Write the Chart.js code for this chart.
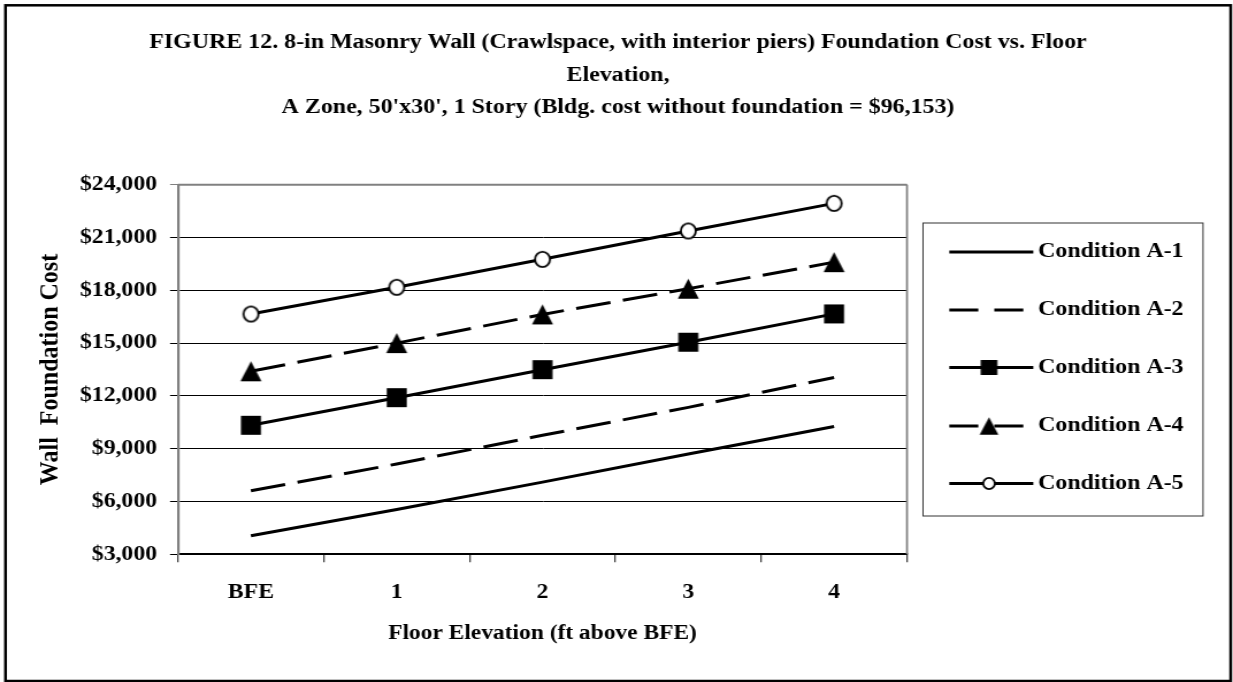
<!DOCTYPE html>
<html>
<head>
<meta charset="utf-8">
<script src="https://cdn.jsdelivr.net/npm/chart.js@4.4.1/dist/chart.umd.min.js"></script>
<style>
  html, body { margin: 0; padding: 0; background: #fff; overflow: hidden; }
  /* the source picture is stretched sideways, so draw narrow and scale x */
  #wrap { width: 1072px; height: 682px; transform: scaleX(1.15019); transform-origin: 0 0; }
</style>
</head>
<body>
<div id="wrap"><canvas id="chart" width="1072" height="682"></canvas></div>
<script>
// === Data ===
const categories = ['BFE', '1', '2', '3', '4'];
const seriesNames = ['Condition A-1', 'Condition A-2', 'Condition A-3', 'Condition A-4', 'Condition A-5'];
const condA1 = [4050, 5550, 7100, 8700, 10260];
const condA2 = [6610, 8130, 9760, 11350, 13050];
const condA3 = [10330, 11900, 13490, 15050, 16660];
const condA4 = [13400, 15000, 16630, 18090, 19600];
const condA5 = [16650, 18170, 19760, 21370, 22940];
const yMin = 3000;
const yMax = 24000;
const yStep = 3000;

const titleLines = [
    'FIGURE 12. 8-in Masonry Wall (Crawlspace, with interior piers) Foundation Cost vs. Floor',
    'Elevation,',
    "A Zone, 50'x30', 1 Story (Bldg. cost without foundation = $96,153)"
];

const FONT = '"Liberation Serif", "Times New Roman", serif';
const W = 1072;
const SX = 1233 / W;            // sideways stretch of the page
const cx = x => x / SX;         // page x -> canvas x

// marker images (drawn narrower than tall to undo the sideways stretch)
function makeMarker(kind, w, h) {
    const c = document.createElement('canvas');
    c.width = Math.ceil(w) + 4;
    c.height = Math.ceil(h) + 4;
    const g = c.getContext('2d');
    const mx = c.width / 2, my = c.height / 2;
    g.fillStyle = '#000';
    g.strokeStyle = '#000';
    if (kind === 'square') {
        g.fillRect(mx - w / 2, my - h / 2, w, h);
    } else if (kind === 'triangle') {
        g.beginPath();
        g.moveTo(mx, my - h / 2);
        g.lineTo(mx + w / 2, my + h / 2);
        g.lineTo(mx - w / 2, my + h / 2);
        g.closePath();
        g.fill();
    } else {
        g.lineWidth = 1.8;
        g.beginPath();
        g.ellipse(mx, my, w / 2 - 0.9, h / 2 - 0.9, 0, 0, Math.PI * 2);
        g.fillStyle = '#fff';
        g.fill();
        g.stroke();
    }
    return c;
}

const plotMarkers = {
    square: makeMarker('square', cx(20), 19),
    triangle: makeMarker('triangle', cx(21), 20),
    circle: makeMarker('circle', cx(17), 17)
};
const legendMarkers = {
    square: makeMarker('square', cx(16.7), 15),
    triangle: makeMarker('triangle', cx(18.7), 17.7),
    circle: makeMarker('circle', cx(13.7), 13)
};

const plotDash = [cx(35), cx(12.6)];
const legendDash = [cx(29), cx(16)];

// =========================
// Plugins: frame, title, legend, border
// =========================
const framePlugin = {
    id: 'frame',
    beforeDatasetsDraw(chart) {
        const {ctx, chartArea: a} = chart;
        ctx.save();
        ctx.strokeStyle = '#808080';
        ctx.lineWidth = 2;
        ctx.beginPath();
        ctx.moveTo(a.left, a.top);
        ctx.lineTo(a.right, a.top);
        ctx.stroke();
        ctx.lineWidth = cx(2);
        ctx.beginPath();
        ctx.moveTo(a.right, a.top);
        ctx.lineTo(a.right, a.bottom);
        ctx.stroke();
        ctx.restore();
    }
};

const decorPlugin = {
    id: 'decor',
    afterDraw(chart) {
        const ctx = chart.ctx;
        ctx.save();

        // outer border
        ctx.strokeStyle = '#000';
        ctx.lineWidth = 2.5;
        ctx.strokeRect(cx(5.5), 5.3, cx(1230.7) - cx(5.5), 675.7);

        // title
        ctx.fillStyle = '#000';
        ctx.font = 'bold 20.8px ' + FONT;
        ctx.textAlign = 'center';
        ctx.textBaseline = 'middle';
        const titleY = [43, 76, 108];
        titleLines.forEach((t, i) => ctx.fillText(t, cx(618), titleY[i]));

        // legend box
        ctx.strokeStyle = '#333';
        ctx.lineWidth = 1;
        ctx.strokeRect(cx(923), 223, cx(1203) - cx(923), 293);

        const itemY = [252, 310, 367.5, 426, 483.5];
        const lineX0 = cx(949.3), lineX1 = cx(1033.3), markX = cx(989), textX = cx(1038);
        chart.data.datasets.forEach((ds, i) => {
            const y = itemY[i];
            ctx.strokeStyle = '#000';
            ctx.lineWidth = 3;
            ctx.setLineDash(ds.borderDash && ds.borderDash.length ? legendDash : []);
            ctx.beginPath();
            ctx.moveTo(lineX0, y);
            ctx.lineTo(lineX1, y);
            ctx.stroke();
            ctx.setLineDash([]);
            if (ds.markerKind) {
                const img = legendMarkers[ds.markerKind];
                ctx.drawImage(img, markX - img.width / 2, y - img.height / 2);
            }
            ctx.fillStyle = '#000';
            ctx.font = 'bold 20.8px ' + FONT;
            ctx.textAlign = 'left';
            ctx.textBaseline = 'middle';
            ctx.fillText(ds.label, textX, y);
        });
        ctx.restore();
    }
};

// =========================
// Chart
// =========================
function series(label, data, dashed, markerKind) {
    return {
        label: label,
        data: data,
        borderColor: '#000',
        backgroundColor: '#000',
        borderWidth: 3,
        borderDash: dashed ? plotDash : [],
        tension: 0,
        pointStyle: markerKind ? plotMarkers[markerKind] : 'circle',
        pointRadius: markerKind ? 9 : 0,
        markerKind: markerKind
    };
}

const tickFont = { family: FONT, size: 20.6, weight: 'bold' };
const plotLeft = cx(178);
const plotRight = cx(907);

new Chart(document.getElementById('chart'), {
    type: 'line',
    data: {
        labels: categories,
        datasets: [
            series(seriesNames[0], condA1, false, null),
            series(seriesNames[1], condA2, true, null),
            series(seriesNames[2], condA3, false, 'square'),
            series(seriesNames[3], condA4, true, 'triangle'),
            series(seriesNames[4], condA5, false, 'circle')
        ]
    },
    options: {
        responsive: false,
        animation: false,
        events: [],
        layout: { padding: { left: 10, right: W - plotRight, top: 184.7, bottom: 27.7 } },
        plugins: {
            legend: { display: false },
            title: { display: false },
            tooltip: { enabled: false }
        },
        scales: {
            x: {
                offset: true,
                grid: { offset: true, drawOnChartArea: false, drawTicks: true, tickLength: 8, color: '#444', lineWidth: cx(1.5) },
                border: { display: true, color: '#000', width: 2 },
                ticks: { color: '#000', font: tickFont, padding: 18, maxRotation: 0, autoSkip: false },
                title: {
                    display: true,
                    text: 'Floor Elevation (ft above BFE)',
                    color: '#000',
                    font: { family: FONT, size: 20.4, weight: 'bold' },
                    padding: { top: 0, bottom: 8 }
                },
                afterFit: s => { s.height = 100; }
            },
            y: {
                min: yMin,
                max: yMax,
                ticks: {
                    stepSize: yStep,
                    color: '#000',
                    font: tickFont,
                    padding: plotLeft - cx(8) - cx(157),
                    callback: v => '$' + v.toLocaleString('en-US')
                },
                grid: {
                    color: c => (c.tick && c.tick.value === yMax) ? '#808080' : '#000',
                    lineWidth: 1,
                    tickLength: cx(8)
                },
                border: { color: '#808080', width: cx(2.5) },
                title: {
                    display: true,
                    text: 'Wall  Foundation Cost',
                    color: '#000',
                    font: { family: FONT, size: 24, weight: 'bold' },
                    padding: { top: cx(50) - 10 - 14.4, bottom: 0 }
                },
                afterFit: s => { s.width = plotLeft - 10; }
            }
        }
    },
    plugins: [framePlugin, decorPlugin]
});
</script>
</body>
</html>
